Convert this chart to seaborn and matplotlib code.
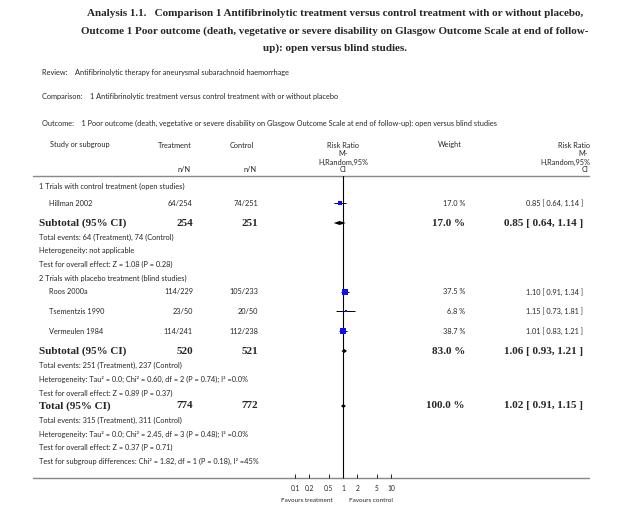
import numpy as np
import pandas as pd
import matplotlib
matplotlib.use("Agg")
import matplotlib.pyplot as plt
import seaborn as sns

# study data
studies = ["Hillman 2002", "Roos 2000a", "Tsementzis 1990", "Vermeulen 1984"]
treat_nN = ["64/254", "114/229", "23/50", "114/241"]
ctrl_nN = ["74/251", "105/233", "20/50", "112/238"]
rr = [0.85, 1.10, 1.15, 1.01]
lo = [0.64, 0.91, 0.73, 0.83]
hi = [1.14, 1.34, 1.81, 1.21]
weight = [17.0, 37.5, 6.8, 38.7]
study_rows = [203, 292, 311, 331]

# pooled estimates: subgroup 1, subgroup 2, total
pooled_labels = ["Subtotal (95% CI)", "Subtotal (95% CI)", "Total (95% CI)"]
pooled_treat = ["254", "520", "774"]
pooled_ctrl = ["251", "521", "772"]
pooled_rr = [0.85, 1.06, 1.02]
pooled_lo = [0.64, 0.93, 0.91]
pooled_hi = [1.14, 1.21, 1.15]
pooled_weight = ["17.0 %", "83.0 %", "100.0 %"]
pooled_rows = [223, 351, 406]

notes = [
    (186, "1 Trials with control treatment (open studies)"),
    (237, "Total events: 64 (Treatment), 74 (Control)"),
    (251, "Heterogeneity: not applicable"),
    (264, "Test for overall effect: Z = 1.08 (P = 0.28)"),
    (278, "2 Trials with placebo treatment (blind studies)"),
    (365, "Total events: 251 (Treatment), 237 (Control)"),
    (379, "Heterogeneity: Tau² = 0.0; Chi² = 0.60, df = 2 (P = 0.74); I² =0.0%"),
    (393, "Test for overall effect: Z = 0.89 (P = 0.37)"),
    (420, "Total events: 315 (Treatment), 311 (Control)"),
    (434, "Heterogeneity: Tau² = 0.0; Chi² = 2.45, df = 3 (P = 0.48); I² =0.0%"),
    (447, "Test for overall effect: Z = 0.37 (P = 0.71)"),
    (461, "Test for subgroup differences: Chi² = 1.82, df = 1 (P = 0.18), I² =45%"),
]
ticks = [0.1, 0.2, 0.5, 1, 2, 5, 10]
tick_labels = ["0.1", "0.2", "0.5", "1", "2", "5", "10"]

sns.set_theme(style="white")
plt.rcParams["font.family"] = ["Lato", "DejaVu Sans"]
W, H = 640, 516
fig = plt.figure(figsize=(6.4, 5.16), dpi=100)
bg = fig.add_axes([0, 0, 1, 1])
bg.set_xlim(0, W)
bg.set_ylim(H, 0)
bg.axis("off")

serif = "Liberation Serif"
fs = 5.3

# title
for y, t in [(14, "Analysis 1.1.   Comparison 1 Antifibrinolytic treatment versus control treatment with or without placebo,"),
             (31, "Outcome 1 Poor outcome (death, vegetative or severe disability on Glasgow Outcome Scale at end of follow-"),
             (48, "up): open versus blind studies.")]:
    bg.text(335, y, t, ha="center", va="center", fontsize=8, fontweight="bold", family=serif)

bg.text(42, 72, "Review:    Antifibrinolytic therapy for aneurysmal subarachnoid haemorrhage", fontsize=fs, va="center")
bg.text(42, 97, "Comparison:    1 Antifibrinolytic treatment versus control treatment with or without placebo", fontsize=fs, va="center")
bg.text(42, 123, "Outcome:    1 Poor outcome (death, vegetative or severe disability on Glasgow Outcome Scale at end of follow-up): open versus blind studies", fontsize=fs, va="center")

# column headers
bg.text(50, 145, "Study or subgroup", fontsize=fs, va="center")
bg.text(175, 145, "Treatment", fontsize=fs, va="center", ha="center")
bg.text(242, 145, "Control", fontsize=fs, va="center", ha="center")
bg.text(191, 170, "n/N", fontsize=fs, va="center", ha="right")
bg.text(257, 170, "n/N", fontsize=fs, va="center", ha="right")
bg.text(450, 145, "Weight", fontsize=fs, va="center", ha="center")
for x, ha in [(343, "center"), (590, "right")]:
    bg.text(x, 145, "Risk Ratio", fontsize=fs, va="center", ha=ha)
    bg.text(x - (0 if ha == "center" else 2), 154, "M-", fontsize=fs, va="center", ha=ha)
    bg.text(x, 162, "H,Random,95%", fontsize=fs, va="center", ha=ha)
    bg.text(x - (0 if ha == "center" else 2), 170, "CI", fontsize=fs, va="center", ha=ha)
bg.plot([33, 589], [176, 176], color="#888888", lw=1)
bg.plot([33, 589], [478, 478], color="#888888", lw=1)

for (y, t) in notes:
    bg.text(39, y, t, fontsize=fs, va="center")

for s, t, c, w, a, b, r, y in zip(studies, treat_nN, ctrl_nN, weight, lo, hi, rr, study_rows):
    bg.text(49, y, s, fontsize=fs, va="center")
    bg.text(193, y, t, fontsize=fs, va="center", ha="right")
    bg.text(258, y, c, fontsize=fs, va="center", ha="right")
    bg.text(465, y, f"{w:.1f} %", fontsize=fs, va="center", ha="right")
    bg.text(583, y, f"{r:.2f} [ {a:.2f}, {b:.2f} ]", fontsize=fs, va="center", ha="right")

for lab, t, c, w, r, a, b, y in zip(pooled_labels, pooled_treat, pooled_ctrl, pooled_weight,
                                    pooled_rr, pooled_lo, pooled_hi, pooled_rows):
    kw = dict(fontsize=8, fontweight="bold", family=serif, va="center")
    bg.text(39, y, lab, **kw)
    bg.text(193, y, t, ha="right", **kw)
    bg.text(258, y, c, ha="right", **kw)
    bg.text(465, y, w, ha="right", **kw)
    bg.text(583, y, f"{r:.2f} [ {a:.2f}, {b:.2f} ]", ha="right", **kw)

# forest panel: x from 0.1 (px 295) to 10 (px 391), y in pixel units
ax = fig.add_axes([295 / W, 1 - 478 / H, 96 / W, (478 - 176) / H])
ax.set_xscale("log")
ax.set_xlim(0.1, 10)
ax.set_ylim(478, 176)
ax.patch.set_alpha(0)
for sp in ax.spines.values():
    sp.set_visible(False)
ax.axvline(1, color="black", lw=0.8)

df = pd.DataFrame({"rr": rr, "lo": lo, "hi": hi, "w": weight, "y": study_rows})
ax.hlines(df["y"], df["lo"], df["hi"], color="black", lw=0.7)
sns.scatterplot(data=df, x="rr", y="y", size="w", sizes=(4, 16), marker="s",
                color="#1010ee", edgecolor="none", legend=False, ax=ax, zorder=3)
for r, a, b, y in zip(pooled_rr, pooled_lo, pooled_hi, pooled_rows):
    ax.fill([a, r, b, r], [y, y - 2, y, y + 2], color="black", lw=0)

ax.set_xticks(ticks)
ax.set_xticklabels(tick_labels)
ax.minorticks_off()
ax.tick_params(axis="x", direction="in", length=3, width=0.6, labelsize=4.8, pad=5, bottom=True, color="black")
ax.set_yticks([])
ax.set_xlabel("")
ax.set_ylabel("")
bg.text(333, 500, "Favours treatment", fontsize=4.6, ha="right", va="center")
bg.text(349, 500, "Favours control", fontsize=4.6, ha="left", va="center")

fig.savefig("out.png", dpi=100, facecolor="white")
